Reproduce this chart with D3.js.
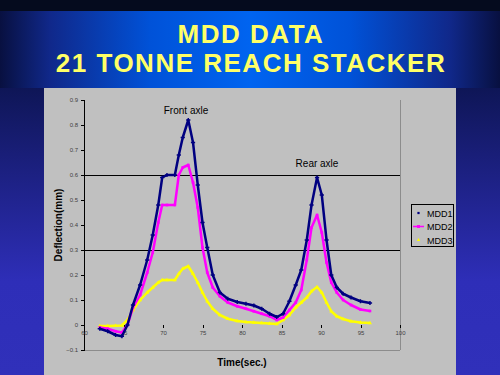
<!DOCTYPE html>
<html>
<head>
<meta charset="utf-8">
<script src="https://cdn.jsdelivr.net/npm/d3@7"></script>
<style>
  html, body { margin: 0; padding: 0; background: #3030b8; }
  svg { display: block; font-family: "Liberation Sans", Arial, sans-serif; }
</style>
</head>
<body>
<div id="graf"></div>
<script>
// data
var cas = [62, 63, 64, 64.8, 65.5, 66.2, 67.1, 68, 68.7, 69.4, 69.9, 70.5, 71.5, 72, 72.5, 73.2, 73.8, 74.4, 75, 75.6,
           76.3, 77.2, 78.2, 79.4, 80.5, 81.5, 82.5, 83.5, 84.4, 85.2, 86, 86.8, 87.5, 88.2, 88.8, 89.5, 90.1, 90.7,
           91.3, 92, 92.8, 93.8, 95, 96.2];

var mdd1 = [-0.015, -0.025, -0.04, -0.045, 0.0, 0.08, 0.16, 0.26, 0.36, 0.48, 0.59, 0.6, 0.6, 0.68, 0.75, 0.82, 0.73,
            0.56, 0.41, 0.31, 0.2, 0.13, 0.105, 0.092, 0.085, 0.078, 0.065, 0.045, 0.032, 0.045, 0.095, 0.16, 0.22,
            0.34, 0.48, 0.59, 0.52, 0.34, 0.2, 0.15, 0.125, 0.11, 0.095, 0.088];

var mdd2 = [-0.01, -0.015, -0.025, -0.03, 0.0, 0.07, 0.12, 0.21, 0.29, 0.41, 0.48, 0.48, 0.48, 0.6, 0.63, 0.64, 0.57,
            0.47, 0.31, 0.21, 0.15, 0.115, 0.09, 0.075, 0.065, 0.055, 0.045, 0.035, 0.02, 0.03, 0.06, 0.09, 0.14,
            0.26, 0.39, 0.44, 0.37, 0.25, 0.17, 0.13, 0.1, 0.08, 0.062, 0.056];

var mdd3 = [-0.004, -0.004, -0.003, -0.002, 0.02, 0.06, 0.1, 0.13, 0.15, 0.17, 0.18, 0.18, 0.18, 0.205, 0.225, 0.235,
            0.205, 0.17, 0.13, 0.095, 0.065, 0.04, 0.025, 0.016, 0.012, 0.01, 0.008, 0.006, 0.004, 0.02, 0.04, 0.07,
            0.09, 0.11, 0.135, 0.152, 0.13, 0.09, 0.055, 0.035, 0.024, 0.015, 0.01, 0.008];

var nazvyRad = ["MDD1", "MDD2", "MDD3"];
var barvyRad = ["#000080", "#ff00ff", "#ffff00"];
var xTicky = [60, 65, 70, 75, 80, 85, 90, 95, 100];
var yTicky = [-0.1, 0, 0.1, 0.2, 0.3, 0.4, 0.5, 0.6, 0.7, 0.8, 0.9];
var mrizka = [0.3, 0.6];

var W = 500, H = 375;

var svg = d3.select("#graf").append("svg")
    .attr("width", W)
    .attr("height", H);

var defs = svg.append("defs");

// pozadí - svislý přechod
var pozadi = defs.append("linearGradient").attr("id", "pozadi")
    .attr("x1", 0).attr("y1", 0).attr("x2", 0).attr("y2", 1);
pozadi.append("stop").attr("offset", "0.2").attr("stop-color", "#0c1450");
pozadi.append("stop").attr("offset", "0.75").attr("stop-color", "#2e2eb8");
pozadi.append("stop").attr("offset", "1").attr("stop-color", "#3030ba");

// banner s nadpisem - vodorovný přechod
var banner = defs.append("linearGradient").attr("id", "banner")
    .attr("x1", 0).attr("y1", 0).attr("x2", 1).attr("y2", 0);
banner.append("stop").attr("offset", "0").attr("stop-color", "#081040");
banner.append("stop").attr("offset", "0.1").attr("stop-color", "#10288a");
banner.append("stop").attr("offset", "0.3").attr("stop-color", "#0052d8");
banner.append("stop").attr("offset", "0.5").attr("stop-color", "#0064f0");
banner.append("stop").attr("offset", "0.7").attr("stop-color", "#0052d8");
banner.append("stop").attr("offset", "0.9").attr("stop-color", "#10288a");
banner.append("stop").attr("offset", "1").attr("stop-color", "#081040");

svg.append("rect").attr("width", W).attr("height", H).attr("fill", "url(#pozadi)");
svg.append("rect").attr("width", W).attr("height", 11).attr("fill", "#050b1e");
svg.append("rect").attr("y", 11).attr("width", W).attr("height", 77).attr("fill", "url(#banner)");

// nadpis (širší písmo jako v originále)
svg.append("text")
    .attr("x", 251).attr("y", 43)
    .attr("text-anchor", "middle")
    .attr("font-size", 26).attr("font-weight", "bold")
    .attr("letter-spacing", 1.5)
    .attr("fill", "#ffff66")
    .text("MDD DATA");
svg.append("text")
    .attr("x", 251).attr("y", 72)
    .attr("text-anchor", "middle")
    .attr("font-size", 26).attr("font-weight", "bold")
    .attr("letter-spacing", 1.5)
    .attr("fill", "#ffff66")
    .text("21 TONNE REACH STACKER");

// šedý panel s grafem
svg.append("rect")
    .attr("x", 44).attr("y", 88)
    .attr("width", 412).attr("height", 287)
    .attr("fill", "#c0c0c0");

// měřítka
var x = d3.scaleLinear().domain([60, 100]).range([84, 400]);
var y = d3.scaleLinear().domain([-0.1, 0.9]).range([350, 100]);

// rámeček plochy grafu
svg.append("line")
    .attr("x1", 400).attr("x2", 400).attr("y1", 100).attr("y2", 350)
    .attr("stroke", "#8c8c8c")
    .attr("shape-rendering", "crispEdges");
svg.append("line")
    .attr("x1", 84).attr("x2", 400).attr("y1", 350).attr("y2", 350)
    .attr("stroke", "#8c8c8c")
    .attr("shape-rendering", "crispEdges");

// mřížka - jen 0.3 a 0.6
svg.selectAll(".mrizka")
    .data(mrizka)
    .enter().append("line")
    .attr("x1", 84).attr("x2", 400)
    .attr("y1", d => y(d)).attr("y2", d => y(d))
    .attr("stroke", "#000").attr("stroke-width", 1)
    .attr("shape-rendering", "crispEdges");

// osa y
var osaY = svg.append("g")
    .attr("transform", "translate(84,0)")
    .call(d3.axisLeft(y).tickValues(yTicky).tickSize(3).tickFormat(d => d === 0 ? "0" : d3.format(".1f")(d)));
osaY.select(".domain").attr("stroke", "#000").attr("shape-rendering", "crispEdges");
osaY.selectAll(".tick line").attr("stroke", "#000").attr("shape-rendering", "crispEdges");
osaY.selectAll(".tick text")
    .attr("font-size", 6).attr("fill", "#404040")
    .attr("font-family", "'Liberation Sans', Arial, sans-serif");

// osa x (v nule, bez čáry)
var osaX = svg.append("g")
    .attr("transform", "translate(0," + y(0) + ")")
    .call(d3.axisBottom(x).tickValues(xTicky).tickSize(3).tickFormat(d3.format("d")));
osaX.select(".domain").remove();
osaX.selectAll(".tick line").attr("stroke", "#000").attr("shape-rendering", "crispEdges");
osaX.selectAll(".tick text")
    .attr("font-size", 6).attr("fill", "#404040")
    .attr("font-family", "'Liberation Sans', Arial, sans-serif");

// popisky os
svg.append("text")
    .attr("x", 242).attr("y", 366)
    .attr("text-anchor", "middle")
    .attr("font-size", 10).attr("font-weight", "bold")
    .attr("fill", "#000")
    .text("Time(sec.)");
svg.append("text")
    .attr("transform", "translate(62,225) rotate(-90)")
    .attr("text-anchor", "middle")
    .attr("font-size", 10).attr("font-weight", "bold")
    .attr("fill", "#000")
    .text("Deflection(mm)");

// řady
var rady = [mdd1, mdd2, mdd3];
var symboly = [d3.symbolCross, d3.symbolSquare, d3.symbolTriangle];
var velikosti = [10, 7, 7];

var cara = d3.line()
    .x((d, i) => x(cas[i]))
    .y(d => y(d));

// kreslení od poslední řady, aby MDD1 byla nahoře
for (var r = rady.length - 1; r >= 0; r--) {
    svg.append("path")
        .datum(rady[r])
        .attr("fill", "none")
        .attr("stroke", barvyRad[r])
        .attr("stroke-width", 2.5)
        .attr("stroke-linejoin", "round")
        .attr("d", cara);

    svg.selectAll(".bod" + r)
        .data(rady[r])
        .enter().append("path")
        .attr("transform", (d, i) => "translate(" + x(cas[i]) + "," + y(d) + ")")
        .attr("d", d3.symbol().type(symboly[r]).size(velikosti[r]))
        .attr("fill", barvyRad[r]);
}

// popisky náprav
svg.append("text")
    .attr("x", 186).attr("y", 114)
    .attr("text-anchor", "middle")
    .attr("font-size", 10).attr("fill", "#000")
    .text("Front axle");
svg.append("text")
    .attr("x", 317).attr("y", 167)
    .attr("text-anchor", "middle")
    .attr("font-size", 10).attr("fill", "#000")
    .text("Rear axle");

// legenda
var legenda = svg.append("g");
legenda.append("rect")
    .attr("x", 411).attr("y", 204)
    .attr("width", 42).attr("height", 42)
    .attr("fill", "#c0c0c0")
    .attr("stroke", "#000")
    .attr("shape-rendering", "crispEdges");

nazvyRad.forEach(function (n, i) {
    var ly = 213 + i * 13.5;
    if (i === 1) {
        legenda.append("line")
            .attr("x1", 413).attr("x2", 424).attr("y1", ly).attr("y2", ly)
            .attr("stroke", barvyRad[i]).attr("stroke-width", 1.5);
    }
    legenda.append("path")
        .attr("transform", "translate(418.5," + ly + ")")
        .attr("d", d3.symbol().type(i === 2 ? d3.symbolTriangle : d3.symbolSquare).size(i === 1 ? 9 : 5))
        .attr("fill", barvyRad[i]);
    legenda.append("text")
        .attr("x", 427).attr("y", ly + 3.5)
        .attr("font-size", 9).attr("fill", "#000")
        .text(n);
});
</script>
</body>
</html>
